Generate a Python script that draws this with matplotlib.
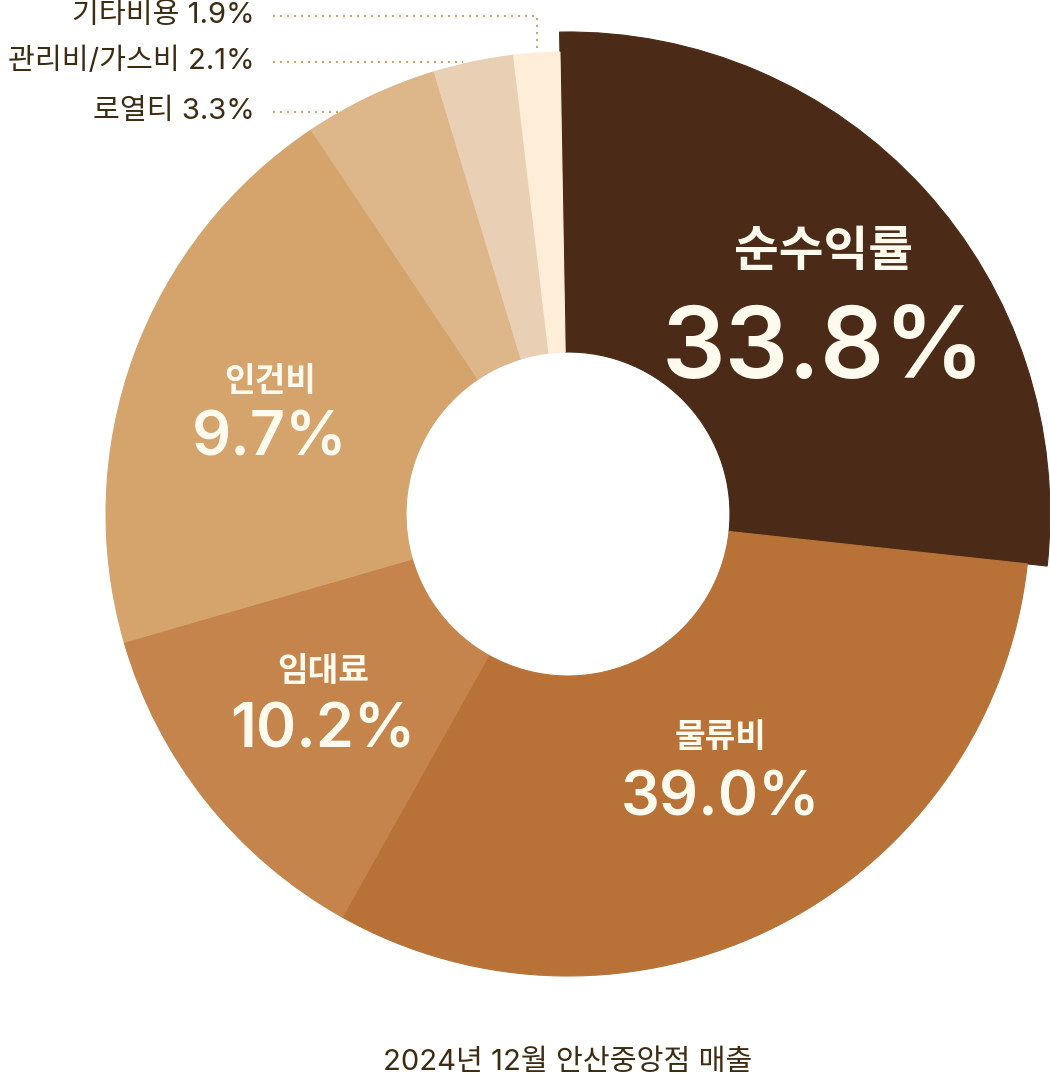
import numpy as np
import matplotlib
matplotlib.use('Agg')
import matplotlib.pyplot as plt

# ---- data ----
categories = ['순수익률', '물류비', '임대료', '인건비', '로열티', '관리비/가스비', '기타비용']
label_pcts = ['33.8%', '39.0%', '10.2%', '9.7%', '3.3%', '2.1%', '1.9%']
# slice shares as drawn in the reference (angular sizes)
slice_shares = [27.0, 31.4, 12.4, 20.1, 4.7, 2.8, 1.6]
colors = ['#4B2B17', '#B87136', '#C4844B', '#D4A46C', '#DDB68A', '#E9D0B5', '#FEEDD7']
title = '2024년 12월 안산중앙점 매출'

W, H = 1050, 1082
plt.rcParams['font.family'] = ['Noto Sans CJK KR', 'DejaVu Sans']
NUMFONT = ['Inter', 'Noto Sans CJK KR', 'DejaVu Sans']

fig = plt.figure(figsize=(W / 100, H / 100), dpi=100)
ax = fig.add_axes([0, 0, 1, 1])

cx, cy = 568, H - 514
R = 462
R_big = 482
hole = 162

wedges, _ = ax.pie(slice_shares, colors=colors, startangle=91, counterclock=False,
                   radius=R, center=(cx, cy),
                   wedgeprops=dict(width=R - hole, linewidth=0.8))
for w in wedges:
    w.set_edgecolor(w.get_facecolor())
wedges[0].set_radius(R_big)
wedges[0].set_width(R_big - hole)

ax.set_xlim(0, W)
ax.set_ylim(0, H)
ax.set_aspect('auto')
ax.axis('off')

txt_in = '#FFFAEE'
# inside labels: (x_px, y_name_px, y_pct_px, name size, pct size)
inside = {
    0: (823, 251, 352, 35, 72),
    1: (721, 738, 800, 24, 44),
    2: (323, 672, 732, 24, 44),
    3: (270, 382, 440, 24, 44),
}
for i, (x, yn, yp, sn, sp) in inside.items():
    ax.text(x, H - yn, categories[i], ha='center', va='center', fontsize=sn,
            fontweight='bold', color=txt_in)
    ax.text(x, H - yp, label_pcts[i], ha='center', va='center', fontsize=sp,
            fontweight='semibold', color=txt_in, family=NUMFONT)

# outside labels with dotted leaders
txt_out = '#3D2B12'
dot_col = '#D4A06A'
ls = (0, (1, 2.5))
lw = 1.44
out_y = {6: 15.7, 5: 61.7, 4: 111.7}
for i, y in out_y.items():
    ax.text(255, H - y, f'{categories[i]} {label_pcts[i]}', ha='right', va='center',
            fontsize=21, color=txt_out, family=NUMFONT)

# 기타비용: horizontal then down to the slice
ax.plot([273, 537, 537], [H - 15.7, H - 15.7, H - 51], color=dot_col, lw=lw, ls=ls)
# 관리비/가스비
ax.plot([273, 463], [H - 61.7, H - 61.7], color=dot_col, lw=lw, ls=ls)
# 로열티: to the outer arc
yy = H - 111.7
x_arc = cx - np.sqrt(R ** 2 - (yy - cy) ** 2)
ax.plot([273, x_arc], [yy, yy], color=dot_col, lw=lw, ls=ls)

ax.text(568, H - 1062, title, ha='center', va='center', fontsize=21, color=txt_out,
        family=NUMFONT)

fig.savefig('out.png', dpi=100)
